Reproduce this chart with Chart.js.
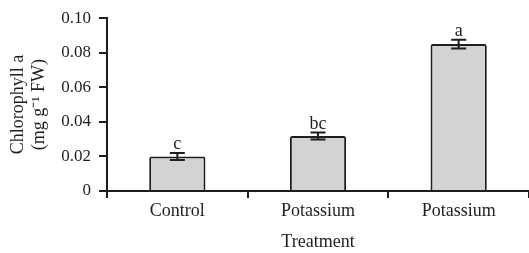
<!DOCTYPE html>
<html>
<head>
<meta charset="utf-8">
<script src="https://cdn.jsdelivr.net/npm/chart.js@4"></script>
<style>
  html, body { margin: 0; padding: 0; background: #fff; }
  #wrap { width: 529px; height: 253px; }
</style>
</head>
<body>
<div id="wrap"><canvas id="myChart"></canvas></div>
<script>
const categories = ['Control', 'Potassium', 'Potassium'];
const chlorophyll = [0.0200, 0.0318, 0.0850];
const errors = [0.0020, 0.0020, 0.0026];
const letters = ['c', 'bc', 'a'];
const yTicks = [0, 0.02, 0.04, 0.06, 0.08, 0.10];

const serif = '"Liberation Serif", "Times New Roman", serif';
const ink = '#1e1e1e';

// error bars + significance letters on top of each bar
const errorBars = {
  id: 'errorBars',
  afterDatasetsDraw(chart) {
    const ctx = chart.ctx;
    const y = chart.scales.y;
    const bars = chart.getDatasetMeta(0).data;
    ctx.save();
    ctx.strokeStyle = ink;
    ctx.lineWidth = 2;
    bars.forEach((bar, i) => {
      const hi = y.getPixelForValue(chlorophyll[i] + errors[i]);
      const lo = y.getPixelForValue(chlorophyll[i] - errors[i]);
      const x = bar.x;
      ctx.beginPath();
      ctx.moveTo(x, hi); ctx.lineTo(x, lo);
      ctx.moveTo(x - 7.5, hi); ctx.lineTo(x + 7.5, hi);
      ctx.moveTo(x - 7.5, lo); ctx.lineTo(x + 7.5, lo);
      ctx.stroke();
      ctx.fillStyle = ink;
      ctx.font = '18px ' + serif;
      ctx.textAlign = 'center';
      ctx.textBaseline = 'alphabetic';
      ctx.fillText(letters[i], x, hi - 4);
    });
    ctx.restore();
  }
};

new Chart(document.getElementById('myChart').getContext('2d'), {
  type: 'bar',
  data: {
    labels: categories,
    datasets: [{
      data: chlorophyll,
      backgroundColor: '#d3d3d5',
      borderColor: ink,
      borderWidth: 2,
      borderRadius: 2,
      borderSkipped: 'bottom',
      categoryPercentage: 1,
      barPercentage: 0.4
    }]
  },
  options: {
    responsive: true,
    maintainAspectRatio: false,
    animation: false,
    layout: { padding: { top: 16, right: 0, left: 0, bottom: 0 } },
    plugins: { legend: { display: false }, tooltip: { enabled: false } },
    scales: {
      x: {
        offset: true,
        afterFit(axis) { axis.height = 62; },
        border: { color: ink, width: 2 },
        grid: { offset: true, drawOnChartArea: false, color: ink, lineWidth: 2, tickLength: 7 },
        ticks: { color: ink, font: { family: serif, size: 18 }, padding: 2 },
        title: { display: true, text: 'Treatment', color: ink, font: { family: serif, size: 18 }, padding: { top: 0, bottom: 0 } }
      },
      y: {
        min: 0,
        max: 0.10,
        afterBuildTicks(axis) { axis.ticks = yTicks.map(v => ({ value: v })); },
        afterFit(axis) { axis.width = 107; },
        border: { color: ink, width: 2 },
        grid: { drawOnChartArea: false, color: ink, lineWidth: 2, tickLength: 8 },
        ticks: {
          color: ink,
          font: { family: serif, size: 17 },
          padding: 8,
          callback: v => v === 0 ? '0' : v.toFixed(2)
        },
        title: {
          display: true,
          text: ['Chlorophyll a', '(mg g\u207B\u00B9 FW)'],
          color: ink,
          font: { family: serif, size: 18, lineHeight: 1.2 },
          padding: { top: 7, bottom: 0 }
        }
      }
    }
  },
  plugins: [errorBars]
});
</script>
</body>
</html>
